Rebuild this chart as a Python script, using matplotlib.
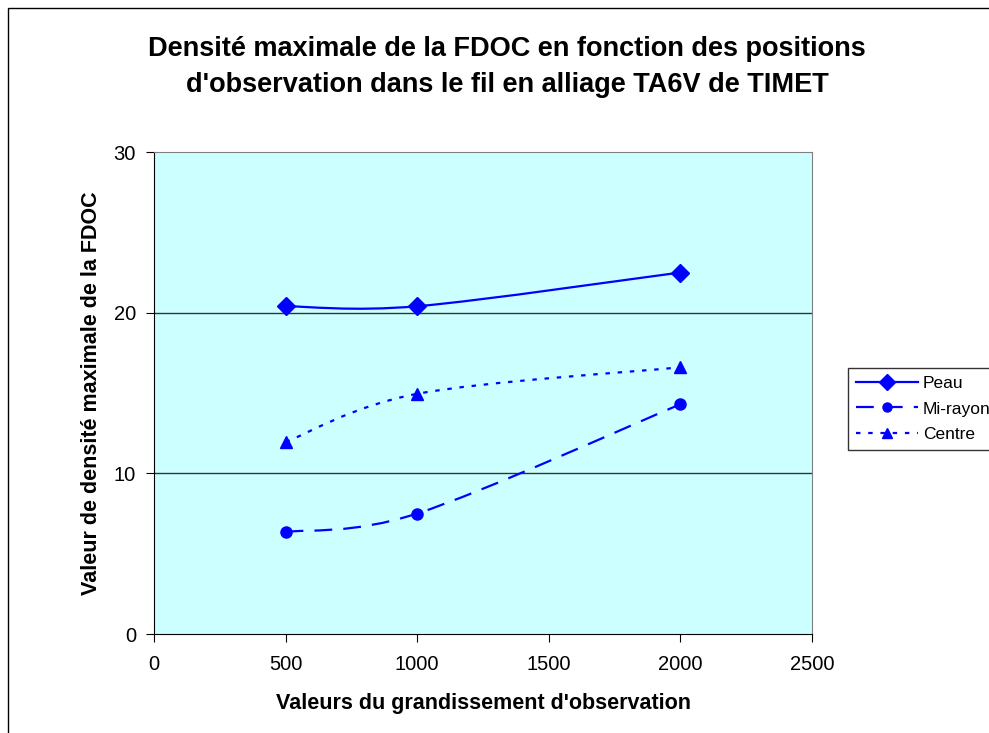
import matplotlib
matplotlib.use("Agg")
import matplotlib.pyplot as plt
from matplotlib.path import Path
from matplotlib.patches import PathPatch, Rectangle
from matplotlib.lines import Line2D

plt.rcParams['font.family'] = ['Liberation Sans', 'DejaVu Sans']

# Data
grandissement = [500, 1000, 2000]
peau = [20.4, 20.4, 22.5]
mi_rayon = [6.35, 7.5, 14.3]
centre = [11.95, 14.95, 16.6]

series_names = ["Peau", "Mi-rayon", "Centre"]

blue = "#0000FF"


def smooth_path(xs, ys):
    # Excel-like smoothed line: cubic Bezier through the data points
    pts = list(zip(xs, ys))
    n = len(pts)
    verts = [pts[0]]
    codes = [Path.MOVETO]
    t = 1.0 / 6.0
    for i in range(n - 1):
        p0 = pts[i - 1] if i > 0 else pts[i]
        p1 = pts[i]
        p2 = pts[i + 1]
        p3 = pts[i + 2] if i + 2 < n else pts[i + 1]
        c1 = (p1[0] + (p2[0] - p0[0]) * t, p1[1] + (p2[1] - p0[1]) * t)
        c2 = (p2[0] - (p3[0] - p1[0]) * t, p2[1] - (p3[1] - p1[1]) * t)
        verts += [c1, c2, p2]
        codes += [Path.CURVE4] * 3
    return Path(verts, codes)


fig = plt.figure(figsize=(9.89, 7.33), dpi=100)

# outer chart frame
fig.patches.append(Rectangle((8 / 989, -0.2), 1.2, 1.2 - 8 / 733,
                             transform=fig.transFigure, fill=False,
                             edgecolor="black", linewidth=1.0))

ax = fig.add_axes([154 / 989, 1 - 634 / 733, (812 - 154) / 989, (634 - 152) / 733])
ax.set_facecolor("#CCFFFF")
ax.set_xlim(0, 2500)
ax.set_ylim(0, 30)
ax.set_xticks([0, 500, 1000, 1500, 2000, 2500])
ax.set_yticks([0, 10, 20, 30])
ax.tick_params(direction="out", length=6, labelsize=14.5, color="black")
ax.tick_params(axis="x", pad=9)
ax.tick_params(axis="y", pad=7)
for gy in [10, 20]:
    ax.axhline(gy, color="#333333", linewidth=1.0, zorder=1)
for s in ["top", "right"]:
    ax.spines[s].set_color("#808080")
for s in ["left", "bottom"]:
    ax.spines[s].set_color("black")

styles = [
    (peau, "-", "D", 9.5),
    (mi_rayon, (0, (8, 5)), "o", 8),
    (centre, (0, (2, 3.5)), "^", 8),
]
handles = []
for (vals, ls, mk, ms), name in zip(styles, series_names):
    patch = PathPatch(smooth_path(grandissement, vals), fill=False,
                      edgecolor=blue, linewidth=1.6, linestyle=ls, zorder=3)
    ax.add_patch(patch)
    ax.plot(grandissement, vals, linestyle="none", marker=mk, markersize=ms,
            color=blue, zorder=4)
    handles.append(Line2D([], [], color=blue, linewidth=1.6, linestyle=ls,
                          marker=mk, markersize=ms - 1.5, label=name))

ax.set_xlabel("Valeurs du grandissement d'observation", fontsize=15.5,
              fontweight="bold", labelpad=14)
ax.set_ylabel("Valeur de densité maximale de la FDOC", fontsize=15.5,
              fontweight="bold", labelpad=8)

fig.text(0.513, 0.909, "Densité maximale de la FDOC en fonction des positions\n"
         "d'observation dans le fil en alliage TA6V de TIMET",
         ha="center", va="center", fontsize=19.5, fontweight="bold",
         linespacing=1.5)

leg = fig.legend(handles=handles, loc="upper left",
                 bbox_to_anchor=(848 / 989, 1 - 368 / 733),
                 fontsize=12.5, frameon=True, fancybox=False,
                 handlelength=3.6, handletextpad=0.25, borderpad=0.45,
                 labelspacing=0.6, borderaxespad=0)
leg.get_frame().set_edgecolor("black")
leg.get_frame().set_linewidth(1.0)

fig.savefig("out.png", dpi=100)
